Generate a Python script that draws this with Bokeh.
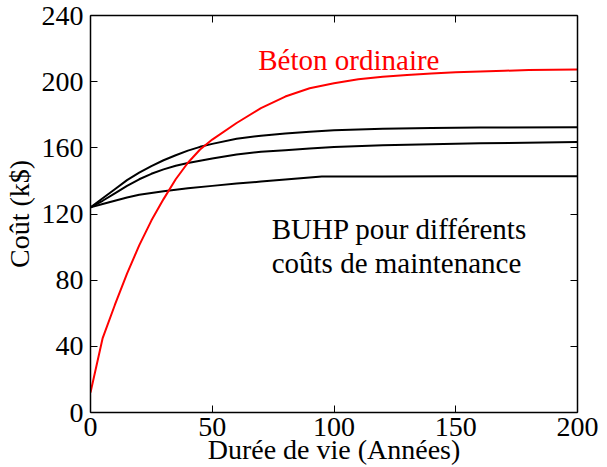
from bokeh.plotting import figure
from bokeh.models import Range1d, FixedTicker, LinearAxis
from bokeh.core.properties import value
from bokeh.embed import file_html
from bokeh.resources import INLINE

# ---- data ----
x_ord = [0, 5, 10, 15, 20, 25, 30, 35, 40, 45, 50, 60, 70, 80, 90, 100, 110, 120,
         130, 140, 150, 160, 170, 180, 190, 200]
y_ord = [12, 45, 65, 84, 101, 116, 129, 141, 151, 159, 165, 175, 184, 191, 196, 199,
         201.5, 203, 204, 205, 205.7, 206.2, 206.6, 207, 207.2, 207.4]

x_b1 = [0, 5, 10, 15, 20, 25, 30, 35, 40, 45, 50, 60, 70, 80, 90, 100, 120, 140, 160, 200]
y_b1 = [124, 129.5, 135, 140.5, 145, 149, 152.5, 155.5, 158.3, 160.6, 162.4, 165.5,
        167.3, 168.6, 169.7, 170.6, 171.5, 172, 172.3, 172.5]

x_b2 = [0, 5, 10, 15, 20, 25, 30, 35, 40, 45, 50, 60, 70, 80, 90, 100, 120, 140, 160, 200]
y_b2 = [124, 128, 132.5, 137, 141, 144.3, 147, 149.2, 150.8, 152.2, 153.5, 156, 157.6,
        158.6, 159.6, 160.5, 161.5, 162.2, 162.7, 163.5]

x_b3 = [0, 5, 10, 15, 20, 30, 40, 50, 60, 70, 80, 95, 120, 150, 200]
y_b3 = [124, 126, 128, 130, 131.6, 133.8, 135.5, 137, 138.4, 139.6, 140.8, 142.6,
        142.7, 142.8, 142.8]

x_ticks = [0, 50, 100, 150, 200]
y_ticks = [0, 40, 80, 120, 160, 200, 240]

label_ord = ["Béton ordinaire"]
label_buhp = ["BUHP pour différents", "coûts de maintenance"]
x_title = "Durée de vie (Années)"
y_title = "Coût (k$)"

FONT = "Liberation Serif"
FS = "28px"
FS_TXT = "29px"

p = figure(width=607, height=467, output_backend="svg", toolbar_location=None,
           x_range=Range1d(0, 200), y_range=Range1d(0, 240),
           min_border_left=90, min_border_right=30, min_border_top=15, min_border_bottom=55)
p.xgrid.visible = False
p.ygrid.visible = False
p.outline_line_color = None
p.background_fill_color = "white"
p.border_fill_color = "white"

p.line(x_b1, y_b1, line_color="black", line_width=2)
p.line(x_b2, y_b2, line_color="black", line_width=2)
p.line(x_b3, y_b3, line_color="black", line_width=2)
p.line(x_ord, y_ord, line_color="#ff0000", line_width=2)


def style(ax, ticks, show_labels, standoff):
    ax.ticker = FixedTicker(ticks=ticks)
    ax.minor_tick_line_color = None
    ax.major_tick_in = 7
    ax.major_tick_out = 0
    ax.major_tick_line_color = "black"
    ax.major_tick_line_width = 1
    ax.axis_line_color = "black"
    ax.axis_line_width = 1.5
    ax.major_label_standoff = standoff
    if show_labels:
        ax.major_label_text_font = FONT
        ax.major_label_text_font_size = FS
        ax.major_label_text_color = "black"
    else:
        ax.major_label_text_font_size = "0px"
        ax.major_label_text_color = None


xa = p.xaxis[0]
style(xa, x_ticks, True, 5)
xa.axis_label = x_title
xa.axis_label_text_font = FONT
xa.axis_label_text_font_size = FS
xa.axis_label_text_font_style = "normal"
xa.axis_label_text_color = "black"
xa.axis_label_standoff = -5

ya = p.yaxis[0]
style(ya, y_ticks, True, 7)
ya.axis_label = y_title
ya.axis_label_text_font = FONT
ya.axis_label_text_font_size = FS
ya.axis_label_text_font_style = "normal"
ya.axis_label_text_color = "black"
ya.axis_label_standoff = 4

top = LinearAxis()
style(top, x_ticks, False, 0)
p.add_layout(top, "above")
right = LinearAxis()
style(right, y_ticks, False, 0)
p.add_layout(right, "right")

# ---- in-plot texts ----
p.text(x=[68.9], y=[212.9], text=label_ord, text_color="#ff0000",
       text_font=value(FONT), text_font_size=value(FS_TXT), text_baseline="alphabetic")
p.text(x=[74.4, 74.4], y=[111, 90.5], text=label_buhp, text_color="black",
       text_font=value(FONT), text_font_size=value(FS_TXT), text_baseline="alphabetic")

open("out.html", "w").write(file_html(p, INLINE))
